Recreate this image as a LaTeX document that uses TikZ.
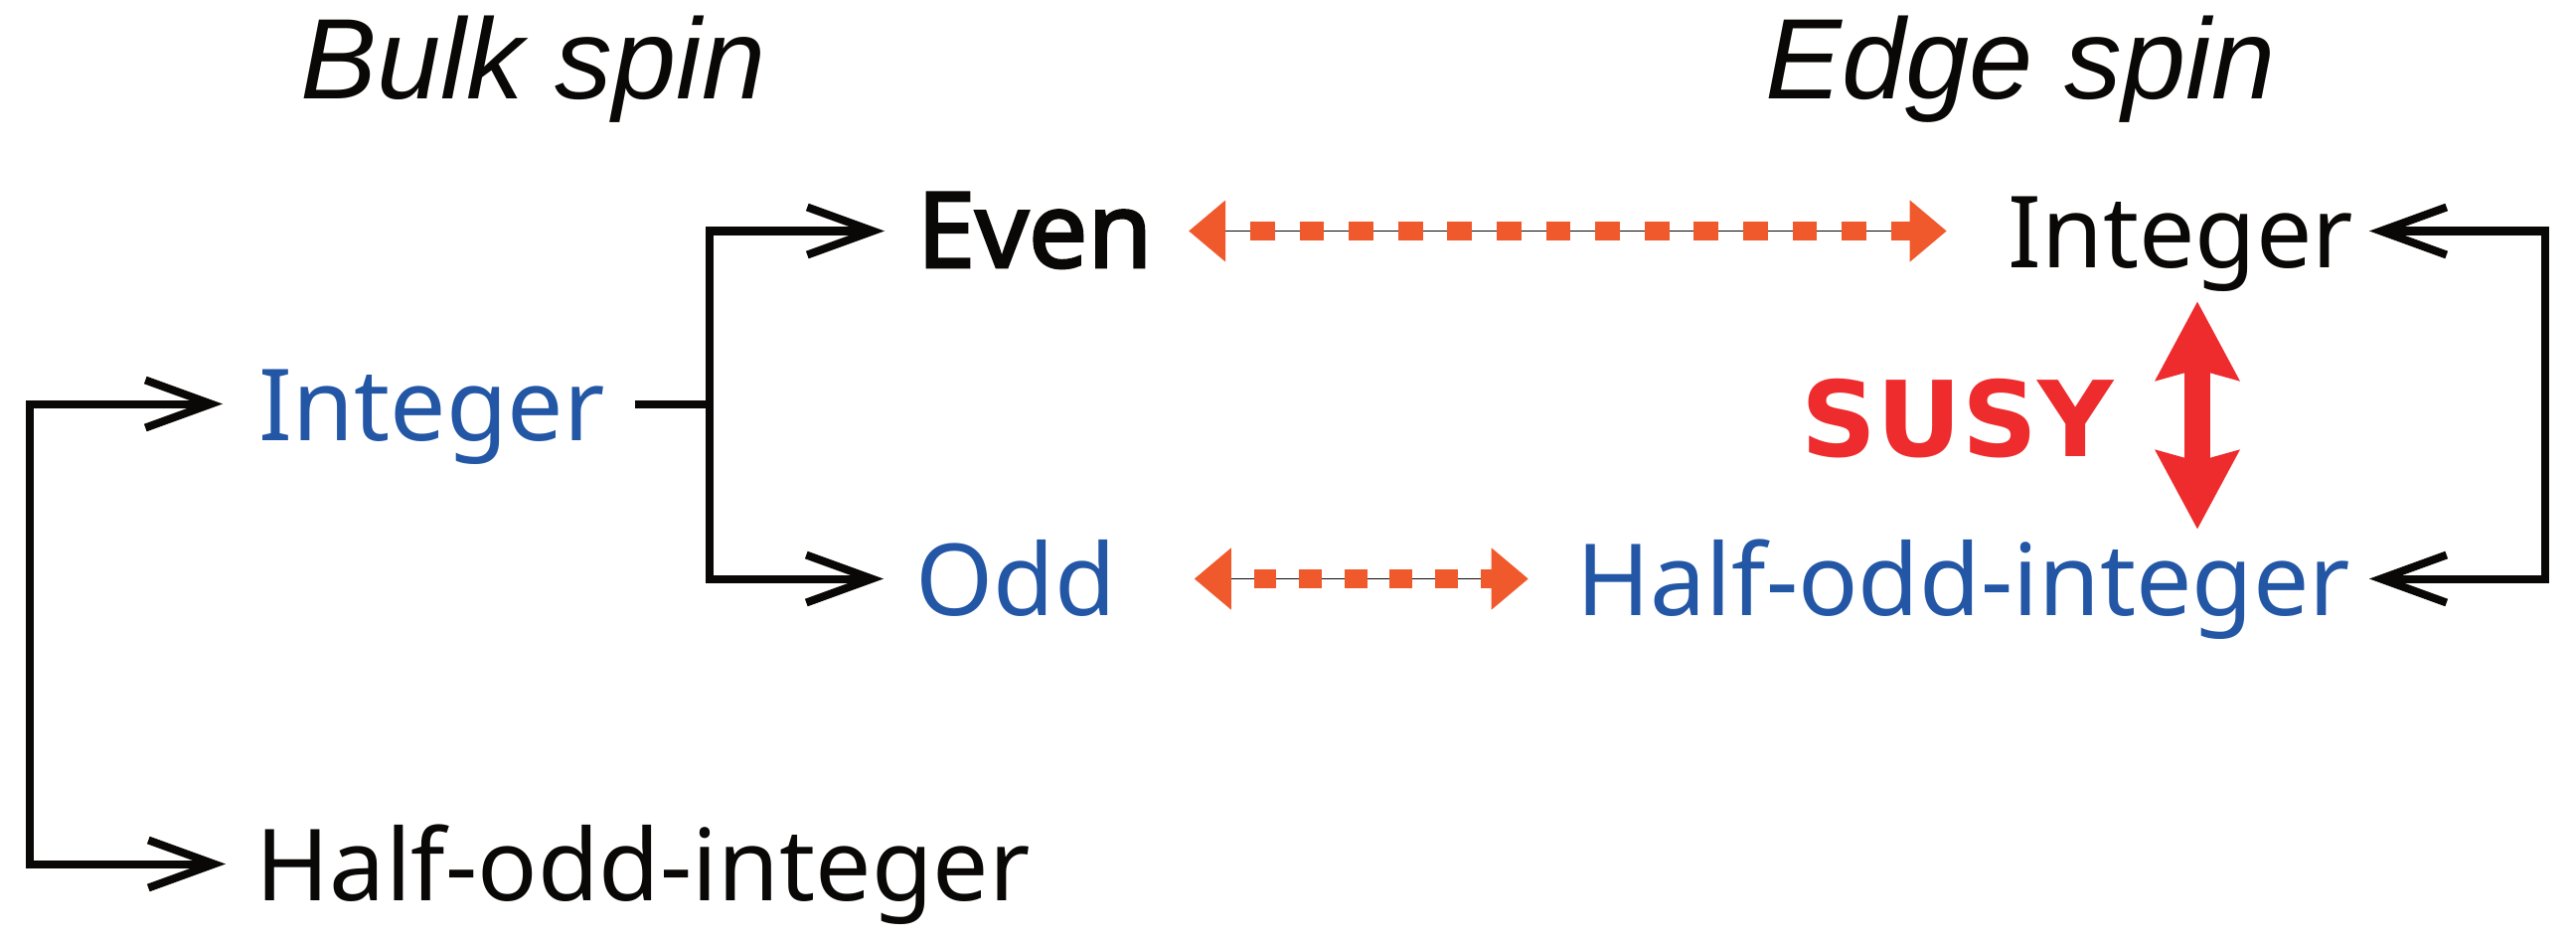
\documentclass[tikz,border=0pt]{standalone}
\usepackage{fontspec}
\setmainfont{Noto Sans}
\newfontfamily\headfont{Liberation Sans}
\newfontfamily\susyfont{DejaVu Sans}
\newfontfamily\evenfont{Noto Sans}[FakeBold=2.5]
\usetikzlibrary{arrows.meta}
\definecolor{spinblue}{RGB}{35,87,166}
\definecolor{dashorange}{RGB}{240,89,43}
\definecolor{susyred}{RGB}{238,43,45}
\definecolor{inkblack}{RGB}{10,8,6}

\begin{document}
\begin{tikzpicture}[
    lbl/.style={inner sep=0pt, text height=0.73cm, text depth=0pt, text=inkblack, font=\fontsize{28.5}{30}\selectfont},
    head/.style={inner sep=0pt, text=inkblack, font=\headfont\itshape\fontsize{32.8}{34}\selectfont},
    brkhead/.tip={Straight Barb[length=0.66cm, width=0.48cm, line join=miter]},
    dashhead/.tip={Triangle[length=0.37cm, width=0.62cm, color=dashorange]},
    susyhead/.tip={Stealth[length=0.8cm, width=0.86cm, inset=0.12cm, line width=0pt]},
    brk/.style={draw=inkblack, line width=0.08cm},
    midline/.style={draw=inkblack, line width=0.015cm, {dashhead}-{dashhead}},
    squares/.style={draw=dashorange, line width=0.19cm, dash pattern=on #1 off #1, dash phase=#1}
]
\useasboundingbox (0,0) rectangle (25.92,9.46);

\node[head, anchor=base west] (bulk) at (3.02,8.46) {Bulk spin};
\node[head, anchor=base west] (edge) at (17.76,8.46) {Edge spin};

\node[lbl, anchor=base west, text=spinblue] (intL) at (2.60,5.03) {Integer};
\node[lbl, anchor=base west] (hoiL) at (2.57,0.40) {Half-odd-integer};
\node[lbl, anchor=base west, font=\evenfont\fontsize{30}{32}\selectfont] (even) at (9.22,6.77) {Even};
\node[lbl, anchor=base west, text=spinblue] (odd) at (9.21,3.27) {Odd};
\node[lbl, anchor=base east] (intR) at (23.69,6.77) {Integer};
\node[lbl, anchor=base east, text=spinblue] (hoiR) at (23.66,3.27) {Half-odd-integer};
\node[anchor=base west, inner sep=0pt, text=susyred, font=\susyfont\bfseries\fontsize{30}{32}\selectfont] (susy) at (18.12,4.87) {SUSY};

\coordinate (lbk) at (0.30,3);
\coordinate (fork) at (7.14,5);
\coordinate (rbk) at (25.61,5);
\coordinate (sx) at (22.11,5);

% bulk side
\draw[brk, {brkhead}-{brkhead}, shorten <=0.36cm, shorten >=0.30cm] (intL.west) -| (lbk) |- (hoiL.west);
\draw[brk] (intL.east) ++(0.30,0) -- (intL.east -| fork);
\draw[brk, -{brkhead}, shorten >=0.32cm] (intL.east -| fork) |- (even.west);
\draw[brk, -{brkhead}, shorten >=0.32cm] (intL.east -| fork) |- (odd.west);

% edge side
\draw[brk, {brkhead}-{brkhead}, shorten <=0.15cm, shorten >=0.18cm] (intR.east) -| (rbk) |- (hoiR.east);

% correspondences
\draw[midline, shorten <=0.36cm, shorten >=0.61cm] (even.east) -- (intR.west);
\draw[squares=0.248cm, shorten <=0.73cm, shorten >=0.98cm] (even.east) -- (intR.west);
\draw[midline, shorten <=0.78cm, shorten >=0.48cm] (odd.east) -- (hoiR.west);
\draw[squares=0.228cm, shorten <=1.15cm, shorten >=0.85cm] (odd.east) -- (hoiR.west);

\draw[draw=susyred, line width=0.26cm, {susyhead}-{susyhead}, shorten <=0.34cm, shorten >=0.13cm] (intR.south -| sx) -- (hoiR.north -| sx);
\end{tikzpicture}
\end{document}
